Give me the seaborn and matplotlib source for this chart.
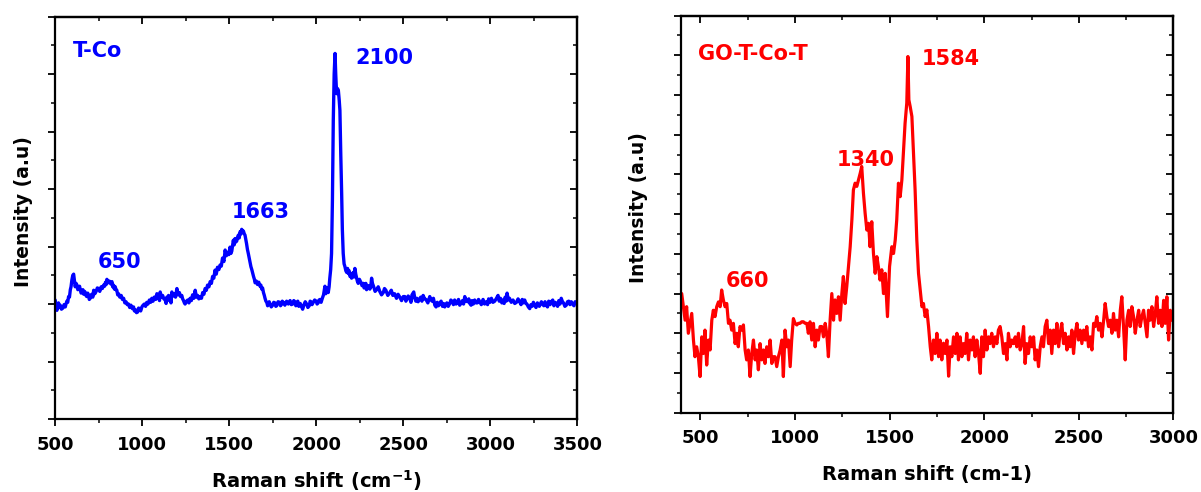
import pandas as pd
import seaborn as sns
import matplotlib.pyplot as plt
from matplotlib.ticker import MultipleLocator, NullFormatter

# T-Co Raman spectrum: (Raman shift in cm-1, intensity in arbitrary units)
tco_points = [
    (501, 2.07), (506, 1.97), (511, 1.89), (515, 1.96), (520, 2.02), (525, 1.95), (530, 1.98),
    (537, 1.91), (545, 1.93), (552, 1.99), (559, 1.95), (563, 2.00), (568, 2.05), (573, 2.03),
    (578, 2.13), (583, 2.12), (588, 2.25), (592, 2.30), (597, 2.42), (602, 2.50), (607, 2.52),
    (612, 2.40), (616, 2.30), (621, 2.36), (626, 2.33), (631, 2.25), (636, 2.27), (641, 2.31),
    (645, 2.25), (650, 2.19), (655, 2.21), (660, 2.25), (665, 2.17), (670, 2.22), (674, 2.20),
    (679, 2.14), (683, 2.13), (688, 2.19), (692, 2.15), (697, 2.08), (702, 2.10), (707, 2.16),
    (712, 2.17), (717, 2.12), (722, 2.24), (729, 2.18), (736, 2.22), (743, 2.28), (750, 2.27),
    (757, 2.22), (765, 2.30), (772, 2.27), (779, 2.33), (785, 2.31), (790, 2.38), (794, 2.34),
    (798, 2.43), (805, 2.37), (812, 2.40), (820, 2.35), (827, 2.39), (831, 2.30), (836, 2.33),
    (841, 2.26), (846, 2.30), (850, 2.25), (855, 2.24), (860, 2.16), (865, 2.18), (872, 2.12),
    (880, 2.15), (887, 2.08), (894, 2.10), (901, 2.02), (908, 2.04), (915, 1.99), (922, 2.00),
    (929, 1.94), (936, 1.98), (944, 1.92), (951, 1.95), (956, 1.88), (962, 1.90), (968, 1.85),
    (974, 1.86), (980, 1.93), (986, 1.92), (992, 1.88), (999, 1.95), (1006, 1.98), (1013, 2.00),
    (1020, 1.96), (1027, 2.03), (1034, 2.00), (1042, 2.07), (1049, 2.03), (1056, 2.10),
    (1063, 2.05), (1070, 2.12), (1078, 2.08), (1085, 2.18), (1090, 2.10), (1095, 2.13),
    (1100, 2.06), (1104, 2.21), (1111, 2.12), (1118, 2.15), (1125, 2.09), (1133, 2.07),
    (1138, 2.01), (1142, 2.12), (1147, 2.06), (1152, 2.15), (1157, 2.08), (1162, 2.10),
    (1166, 2.02), (1171, 2.21), (1178, 2.14), (1185, 2.18), (1192, 2.12), (1200, 2.27),
    (1207, 2.16), (1214, 2.20), (1221, 2.13), (1228, 2.15), (1233, 2.09), (1238, 2.06),
    (1243, 2.02), (1247, 2.00), (1255, 2.05), (1262, 2.07), (1269, 2.02), (1276, 2.10),
    (1283, 2.06), (1290, 2.16), (1297, 2.10), (1305, 2.24), (1312, 2.12), (1319, 2.15),
    (1326, 2.09), (1333, 2.13), (1341, 2.10), (1348, 2.20), (1355, 2.17), (1362, 2.27),
    (1369, 2.24), (1376, 2.33), (1384, 2.30), (1391, 2.39), (1398, 2.36), (1405, 2.48),
    (1412, 2.45), (1419, 2.59), (1426, 2.52), (1433, 2.64), (1441, 2.60), (1448, 2.68),
    (1455, 2.66), (1462, 2.80), (1470, 2.74), (1477, 2.94), (1484, 2.84), (1491, 2.90),
    (1498, 2.86), (1505, 2.99), (1510, 2.88), (1515, 2.92), (1520, 3.02), (1524, 3.11),
    (1529, 3.03), (1534, 3.14), (1539, 3.08), (1544, 3.10), (1548, 3.16), (1553, 3.20),
    (1558, 3.15), (1563, 3.26), (1568, 3.22), (1572, 3.30), (1577, 3.26), (1582, 3.27),
    (1587, 3.22), (1591, 3.20), (1596, 3.12), (1600, 3.05), (1605, 2.95), (1610, 2.88),
    (1615, 2.80), (1620, 2.72), (1625, 2.65), (1630, 2.60), (1635, 2.54), (1640, 2.48),
    (1645, 2.43), (1649, 2.37), (1656, 2.40), (1663, 2.34), (1670, 2.38), (1677, 2.31),
    (1682, 2.33), (1687, 2.26), (1692, 2.28), (1697, 2.20), (1702, 2.15), (1706, 2.10),
    (1711, 2.05), (1716, 2.03), (1721, 1.97), (1726, 2.00), (1730, 2.04), (1735, 2.00),
    (1742, 1.95), (1750, 1.98), (1756, 2.03), (1763, 2.02), (1768, 1.96), (1773, 1.97),
    (1781, 2.04), (1790, 2.03), (1795, 1.97), (1800, 1.99), (1805, 2.05), (1811, 2.03),
    (1820, 1.98), (1830, 2.05), (1840, 2.00), (1850, 2.06), (1857, 1.99), (1865, 2.00),
    (1871, 2.06), (1878, 2.04), (1883, 1.97), (1888, 2.00), (1894, 2.05), (1900, 1.96),
    (1908, 2.01), (1916, 1.95), (1922, 1.91), (1930, 1.99), (1937, 2.04), (1945, 2.00),
    (1952, 1.94), (1960, 1.97), (1965, 2.05), (1970, 2.04), (1976, 1.99), (1983, 2.03),
    (1991, 2.07), (2000, 2.05), (2005, 2.00), (2011, 2.02), (2016, 2.07), (2022, 2.08),
    (2028, 2.03), (2035, 2.10), (2042, 2.16), (2050, 2.31), (2055, 2.18), (2060, 2.22),
    (2065, 2.28), (2069, 2.20), (2074, 2.30), (2078, 2.45), (2083, 2.60), (2088, 2.88),
    (2093, 3.80), (2098, 5.20), (2103, 6.00), (2108, 6.36), (2112, 6.00), (2117, 5.66),
    (2122, 5.75), (2127, 5.72), (2132, 5.55), (2136, 5.37), (2141, 4.60), (2146, 3.93),
    (2150, 3.30), (2155, 2.88), (2160, 2.70), (2165, 2.65), (2170, 2.58), (2175, 2.55),
    (2180, 2.62), (2184, 2.53), (2189, 2.58), (2194, 2.48), (2198, 2.52), (2203, 2.45),
    (2208, 2.50), (2212, 2.55), (2217, 2.47), (2222, 2.62), (2227, 2.52), (2232, 2.45),
    (2236, 2.40), (2241, 2.36), (2248, 2.43), (2256, 2.38), (2263, 2.32), (2270, 2.36),
    (2275, 2.28), (2280, 2.30), (2285, 2.36), (2289, 2.25), (2295, 2.28), (2300, 2.32),
    (2308, 2.26), (2313, 2.30), (2318, 2.45), (2323, 2.36), (2330, 2.30), (2338, 2.22),
    (2347, 2.25), (2356, 2.30), (2365, 2.22), (2375, 2.16), (2385, 2.20), (2392, 2.27),
    (2400, 2.24), (2411, 2.15), (2423, 2.20), (2431, 2.24), (2440, 2.15), (2450, 2.18),
    (2461, 2.10), (2470, 2.17), (2480, 2.12), (2490, 2.06), (2500, 2.13), (2509, 2.13),
    (2515, 2.05), (2520, 2.08), (2528, 2.14), (2537, 2.10), (2544, 2.03), (2550, 2.16),
    (2560, 2.21), (2566, 2.10), (2572, 2.05), (2578, 2.10), (2585, 2.04), (2592, 2.08),
    (2600, 2.12), (2607, 2.05), (2614, 2.15), (2622, 2.09), (2630, 2.08), (2641, 2.02),
    (2652, 2.13), (2658, 2.08), (2665, 2.05), (2673, 2.10), (2681, 1.98), (2688, 1.95),
    (2695, 2.03), (2702, 1.97), (2709, 2.01), (2717, 2.05), (2725, 1.96), (2731, 2.01),
    (2738, 1.95), (2744, 1.99), (2750, 2.02), (2758, 1.96), (2767, 2.01), (2773, 2.07),
    (2780, 2.05), (2788, 1.99), (2795, 2.07), (2803, 2.00), (2810, 2.02), (2817, 2.08),
    (2824, 1.98), (2832, 2.02), (2840, 2.06), (2846, 2.00), (2853, 2.13), (2861, 2.05),
    (2870, 2.04), (2876, 2.09), (2882, 2.01), (2889, 1.98), (2895, 2.06), (2902, 2.00),
    (2910, 2.07), (2917, 2.02), (2925, 2.02), (2932, 2.08), (2939, 2.04), (2948, 1.99),
    (2958, 2.08), (2967, 2.00), (2977, 2.04), (2984, 1.99), (2990, 2.09), (2998, 2.03),
    (3006, 2.10), (3015, 2.03), (3025, 2.05), (3035, 2.10), (3044, 2.15), (3051, 2.05),
    (3058, 2.10), (3066, 2.02), (3073, 2.07), (3079, 2.01), (3085, 2.12), (3091, 2.05),
    (3096, 2.19), (3103, 2.07), (3110, 2.10), (3120, 2.03), (3130, 2.07), (3140, 2.01),
    (3150, 2.03), (3159, 2.09), (3168, 2.04), (3176, 1.99), (3183, 2.08), (3190, 2.02),
    (3197, 2.07), (3204, 2.01), (3210, 2.00), (3218, 1.95), (3226, 1.92), (3233, 1.99),
    (3240, 1.96), (3247, 2.03), (3254, 1.98), (3262, 1.94), (3270, 2.02), (3281, 1.96),
    (3293, 2.04), (3300, 2.00), (3307, 1.97), (3314, 2.04), (3321, 1.98), (3328, 1.95),
    (3335, 2.05), (3343, 1.99), (3350, 2.04), (3358, 2.07), (3365, 1.97), (3372, 2.03),
    (3379, 2.01), (3386, 1.96), (3393, 2.06), (3400, 2.00), (3407, 2.10), (3414, 2.04),
    (3420, 2.02), (3428, 1.96), (3436, 1.98), (3443, 2.04), (3450, 2.05), (3457, 1.99),
    (3465, 2.04), (3472, 2.00), (3480, 1.97), (3487, 2.04), (3493, 2.01), (3500, 2.03),
]

# GO-T-Co-T Raman spectrum: (Raman shift in cm-1, intensity in arbitrary units)
go_points = [
    (402, 3.00), (411, 2.67), (420, 2.33), (428, 2.67), (437, 2.00), (446, 2.25), (455, 2.50),
    (464, 1.83), (472, 1.41), (481, 1.66), (490, 1.41), (499, 0.91), (508, 1.91), (516, 1.49),
    (525, 2.08), (534, 1.20), (543, 1.83), (552, 1.58), (561, 2.33), (569, 2.58), (578, 2.42),
    (587, 2.67), (596, 2.79), (605, 2.67), (613, 3.09), (622, 2.84), (631, 2.67), (640, 2.75),
    (649, 2.25), (657, 2.33), (666, 2.08), (675, 2.25), (684, 1.74), (693, 2.00), (701, 1.66),
    (710, 2.17), (719, 2.08), (728, 2.21), (737, 1.58), (745, 1.33), (754, 1.58), (763, 0.91),
    (772, 1.49), (781, 1.83), (790, 1.33), (798, 1.58), (807, 1.08), (816, 1.74), (825, 1.33),
    (834, 1.58), (842, 1.24), (851, 1.66), (860, 1.41), (869, 1.83), (878, 1.24), (886, 1.41),
    (895, 1.41), (904, 1.16), (913, 1.41), (922, 1.58), (931, 1.83), (939, 0.91), (948, 2.08),
    (957, 1.66), (966, 1.83), (975, 1.16), (983, 1.83), (992, 2.37), (1001, 2.25), (1010, 2.21),
    (1018, 2.25), (1027, 2.25), (1036, 2.29), (1045, 2.29), (1054, 2.25), (1063, 2.25),
    (1071, 2.00), (1080, 2.29), (1089, 1.83), (1098, 2.25), (1107, 1.66), (1116, 2.08),
    (1124, 1.83), (1133, 2.17), (1142, 2.17), (1151, 1.91), (1160, 2.25), (1168, 2.00),
    (1177, 1.41), (1186, 2.33), (1195, 3.00), (1204, 2.33), (1212, 2.84), (1221, 2.50),
    (1230, 2.92), (1239, 2.33), (1248, 3.00), (1256, 3.43), (1265, 2.75), (1274, 3.18),
    (1283, 3.68), (1292, 4.18), (1301, 4.86), (1309, 5.61), (1318, 5.78), (1327, 5.70),
    (1336, 5.86), (1345, 6.03), (1353, 6.20), (1362, 5.53), (1371, 5.02), (1380, 4.60),
    (1389, 4.77), (1397, 4.18), (1406, 4.81), (1415, 4.01), (1424, 3.51), (1433, 3.93),
    (1441, 3.68), (1450, 3.34), (1459, 3.60), (1468, 3.00), (1477, 3.51), (1489, 2.42),
    (1500, 3.68), (1512, 4.18), (1521, 4.01), (1530, 4.35), (1538, 4.86), (1547, 5.78),
    (1556, 5.44), (1565, 5.86), (1574, 6.62), (1582, 7.29), (1591, 7.80), (1597, 8.97),
    (1602, 7.88), (1609, 7.71), (1618, 7.46), (1627, 6.45), (1635, 5.61), (1644, 4.35),
    (1653, 3.51), (1662, 3.09), (1671, 2.67), (1679, 2.75), (1688, 2.42), (1697, 2.59),
    (1706, 2.17), (1715, 1.66), (1723, 1.33), (1732, 1.83), (1741, 1.49), (1750, 2.00),
    (1759, 1.41), (1767, 1.83), (1776, 1.33), (1785, 1.75), (1794, 1.49), (1803, 1.83),
    (1812, 0.92), (1820, 1.66), (1829, 1.41), (1838, 1.91), (1847, 1.49), (1856, 2.00),
    (1864, 1.33), (1873, 1.91), (1882, 1.41), (1890, 1.74), (1899, 1.49), (1908, 2.00),
    (1917, 1.33), (1926, 1.83), (1935, 1.58), (1943, 1.91), (1952, 1.41), (1961, 1.83),
    (1970, 1.49), (1979, 0.99), (1987, 1.91), (1996, 1.41), (2005, 2.08), (2014, 1.58),
    (2023, 1.91), (2031, 1.74), (2040, 2.00), (2049, 1.66), (2058, 1.91), (2067, 1.74),
    (2075, 2.08), (2084, 2.17), (2093, 1.91), (2102, 1.49), (2111, 1.74), (2120, 1.33),
    (2128, 2.00), (2137, 1.66), (2146, 1.83), (2155, 1.74), (2164, 1.91), (2172, 1.66),
    (2181, 2.00), (2190, 1.58), (2199, 1.74), (2208, 2.17), (2216, 1.24), (2225, 1.74),
    (2234, 1.49), (2243, 1.91), (2252, 1.66), (2261, 1.91), (2269, 1.33), (2278, 1.58),
    (2287, 1.16), (2296, 1.66), (2305, 1.91), (2313, 1.66), (2322, 2.17), (2331, 2.33),
    (2340, 1.74), (2349, 2.08), (2357, 1.49), (2366, 2.08), (2375, 1.74), (2384, 2.25),
    (2393, 1.66), (2401, 2.00), (2410, 2.25), (2419, 1.74), (2428, 2.00), (2437, 1.58),
    (2446, 1.91), (2454, 1.66), (2463, 2.08), (2472, 1.49), (2481, 2.00), (2490, 2.25),
    (2498, 1.83), (2507, 2.08), (2516, 1.74), (2525, 2.08), (2534, 1.83), (2542, 2.17),
    (2551, 1.66), (2560, 1.91), (2569, 1.58), (2578, 2.25), (2586, 2.17), (2595, 2.42),
    (2604, 2.08), (2613, 2.25), (2622, 1.91), (2631, 2.33), (2639, 2.75), (2648, 2.42),
    (2657, 2.17), (2666, 2.33), (2675, 2.00), (2683, 2.50), (2692, 2.08), (2701, 2.33),
    (2710, 1.91), (2719, 2.58), (2727, 2.92), (2736, 2.17), (2745, 1.33), (2754, 2.33),
    (2763, 2.58), (2771, 2.17), (2780, 2.67), (2789, 2.42), (2798, 2.00), (2807, 2.33),
    (2816, 2.58), (2824, 2.17), (2833, 2.42), (2842, 2.58), (2851, 2.25), (2860, 1.91),
    (2868, 2.58), (2877, 2.33), (2886, 2.67), (2895, 2.17), (2904, 2.50), (2912, 2.92),
    (2921, 2.25), (2930, 2.58), (2939, 2.17), (2948, 2.83), (2956, 2.25), (2965, 2.92),
    (2974, 1.83), (2983, 2.58), (2992, 2.33), (3000, 2.40),
]

tco_name = "T-Co"
go_name = "GO-T-Co-T"
tco_peak_labels = ["650", "1663", "2100"]
go_peak_labels = ["660", "1340", "1584"]

sns.set_style("ticks")
plt.rcParams["font.family"] = ["DejaVu Sans"]
plt.rcParams["font.weight"] = "bold"
plt.rcParams["axes.labelweight"] = "bold"
plt.rcParams["mathtext.default"] = "bf"
for key in ("text.color", "axes.labelcolor", "xtick.color", "ytick.color", "axes.edgecolor"):
    plt.rcParams[key] = "black"

BLUE = "#0000FF"
RED = "#FF0000"

fig = plt.figure(figsize=(12.01, 4.92), dpi=100)
ax1 = fig.add_axes([0.0458, 0.1484, 0.4350, 0.8177])
ax2 = fig.add_axes([0.5673, 0.1612, 0.4098, 0.8070])

tco = pd.DataFrame(tco_points, columns=["shift", "intensity"])
go = pd.DataFrame(go_points, columns=["shift", "intensity"])

sns.lineplot(data=tco, x="shift", y="intensity", ax=ax1, color=BLUE,
             linewidth=2.4, sort=False, estimator=None)
sns.lineplot(data=go, x="shift", y="intensity", ax=ax2, color=RED,
             linewidth=2.3, sort=False, estimator=None)


def style_axes(ax, xlim, ylim):
    ax.set_xlim(*xlim)
    ax.set_ylim(*ylim)
    ax.xaxis.set_major_locator(MultipleLocator(500))
    ax.xaxis.set_minor_locator(MultipleLocator(250))
    ax.yaxis.set_major_locator(MultipleLocator(1))
    ax.yaxis.set_minor_locator(MultipleLocator(0.5))
    ax.yaxis.set_major_formatter(NullFormatter())
    for sp in ax.spines.values():
        sp.set_visible(True)
        sp.set_linewidth(1.6)
        sp.set_color("black")
    ax.tick_params(which="major", direction="out", length=5, width=1.3,
                   color="black", labelcolor="black", labelsize=13, pad=7)
    ax.tick_params(which="minor", direction="out", length=3, width=1.1,
                   color="black")
    ax.tick_params(axis="y", labelleft=False)
    # mirrored ticks pointing inward on the top and right edges
    top = ax.secondary_xaxis("top")
    top.xaxis.set_major_locator(MultipleLocator(500))
    top.xaxis.set_minor_locator(MultipleLocator(250))
    top.tick_params(which="major", direction="in", length=5, width=1.3, labeltop=False)
    top.tick_params(which="minor", direction="in", length=3, width=1.1)
    top.spines["top"].set_linewidth(1.6)
    right = ax.secondary_yaxis("right")
    right.yaxis.set_major_locator(MultipleLocator(1))
    right.yaxis.set_minor_locator(MultipleLocator(0.5))
    right.tick_params(which="major", direction="in", length=5, width=1.3, labelright=False)
    right.tick_params(which="minor", direction="in", length=3, width=1.1)
    right.spines["right"].set_linewidth(1.6)
    for lab in ax.get_xticklabels():
        lab.set_fontweight("bold")


style_axes(ax1, (500, 3500), (0, 7))
style_axes(ax2, (400, 3000), (0, 10))

ax1.set_xlabel(r"Raman shift (cm$^{\mathbf{-1}}$)", fontsize=14)
ax2.set_xlabel("Raman shift (cm-1)", fontsize=14)
ax1.set_ylabel("Intensity (a.u)", fontsize=13.5)
ax2.set_ylabel("Intensity (a.u)", fontsize=13.5)
ax1.xaxis.set_label_coords(0.5, -0.170)
ax2.xaxis.set_label_coords(0.5, -0.170)
ax1.xaxis.label.set_verticalalignment("baseline")
ax2.xaxis.label.set_verticalalignment("baseline")
ax1.yaxis.set_label_coords(-0.043, 0.516)
ax2.yaxis.set_label_coords(-0.068, 0.517)

ann = dict(fontsize=15, fontweight="bold", ha="left", va="baseline")
ax1.text(603, 6.29, tco_name, color=BLUE, **ann)
ax1.text(746, 2.62, tco_peak_labels[0], color=BLUE, **ann)
ax1.text(1514, 3.49, tco_peak_labels[1], color=BLUE, **ann)
ax1.text(2222, 6.17, tco_peak_labels[2], color=BLUE, **ann)

ax2.text(489, 8.88, go_name, color=RED, **ann)
ax2.text(636, 3.16, go_peak_labels[0], color=RED, **ann)
ax2.text(1222, 6.22, go_peak_labels[1], color=RED, **ann)
ax2.text(1670, 8.76, go_peak_labels[2], color=RED, **ann)

fig.savefig("out.png", dpi=100)
